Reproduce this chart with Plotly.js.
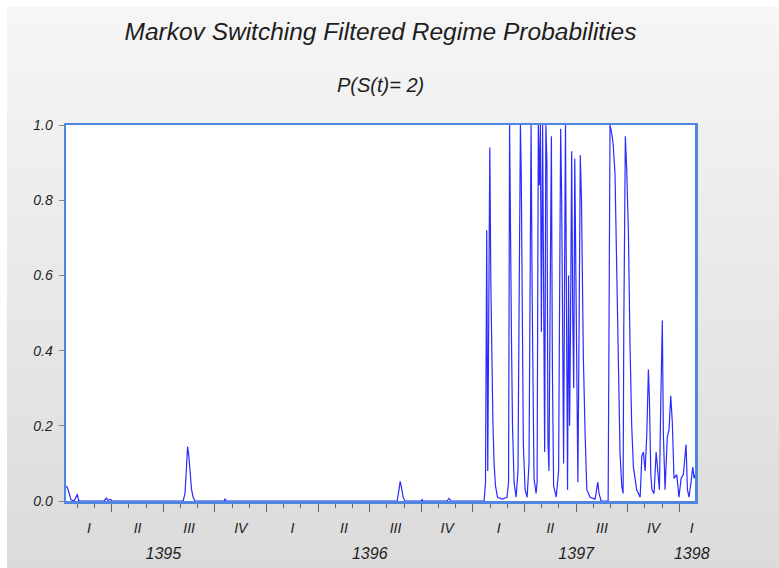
<!DOCTYPE html>
<html><head><meta charset="utf-8">
<script src="https://cdn.plot.ly/plotly-3.0.1.min.js"></script>
<style>
html,body{margin:0;padding:0;background:#fff;overflow:hidden;}
#bg{position:absolute;left:7px;top:7px;width:772px;height:561px;background:linear-gradient(#f6f6f6,#dbdbdb);}
#chart{position:absolute;left:0;top:0;width:779px;height:568px;}
</style></head><body><div id="bg"></div><div id="chart"></div>
<script>
// x: months since the start of 1395 (Iranian calendar); y: filtered P(S(t)=2)
const monthPos = [
 0.34,0.43,0.52,0.63,0.81,0.92,1.00,1.07,1.16,2.55,2.70,2.78,2.93,3.02,
 7.15,7.26,7.33,7.41,7.48,7.55,7.64,7.73,7.84,9.53,9.59,9.65,
 19.59,19.70,19.77,19.85,19.94,20.05,20.98,21.04,21.10,22.49,22.61,22.73,24.65,
 24.73,24.80,24.86,24.92,24.98,25.04,25.10,25.16,25.23,25.31,25.43,25.69,25.98,
 26.07,26.13,26.19,26.24,26.30,26.39,26.51,26.62,26.68,26.76,26.81,26.87,26.93,
 27.03,27.15,27.26,27.32,27.38,27.44,27.49,27.55,27.67,27.73,27.80,27.86,27.92,
 27.98,28.05,28.11,28.17,28.24,28.30,28.36,28.42,28.49,28.56,28.62,28.69,28.84,
 28.98,29.04,29.10,29.16,29.22,29.27,29.33,29.38,29.44,29.50,29.56,29.62,29.67,
 29.74,29.80,29.86,29.92,29.98,30.04,30.10,30.17,30.24,30.31,30.37,30.42,30.52,
 30.62,30.81,31.10,31.19,31.26,31.33,31.45,31.86,31.91,31.97,32.06,32.15,32.26,
 32.36,32.46,32.55,32.65,32.73,32.77,32.81,32.86,32.94,33.04,33.13,33.23,33.33,
 33.52,33.72,33.82,33.91,34.01,34.11,34.20,34.26,34.30,34.34,34.41,34.53,34.65,
 34.72,34.84,34.92,35.01,35.07,35.17,35.30,35.40,35.50,35.59,35.69,35.85,35.98,
 36.10,36.23,36.39,36.47,36.56,36.68,36.78,36.86,36.91
];
const probS2 = [
 0.04,0.035,0.02,0.003,0.0,0.012,0.018,0.002,0.0,0.0,0.008,0.002,0.004,0.0,
 0.0,0.02,0.09,0.145,0.12,0.07,0.03,0.01,0.0,0.0,0.006,0.0,
 0.0,0.03,0.052,0.035,0.01,0.0,0.0,0.004,0.0,0.0,0.007,0.0,0.0,
 0.05,0.72,0.08,0.40,0.94,0.58,0.33,0.21,0.10,0.04,0.01,0.005,0.01,
 0.05,1.0,0.50,0.43,0.20,0.05,0.01,0.08,0.50,1.0,0.86,0.45,0.15,
 0.03,0.01,0.10,0.50,1.0,0.56,0.30,0.06,0.02,0.05,1.0,0.84,1.0,
 0.45,1.0,0.62,0.13,1.0,0.90,0.16,0.08,0.55,0.97,0.35,0.04,0.01,
 0.08,0.55,0.99,0.80,0.35,0.10,0.62,1.0,0.50,0.03,0.60,0.20,0.45,
 0.93,0.50,0.30,0.91,0.60,0.20,0.05,0.45,0.92,0.80,0.50,0.38,0.18,
 0.03,0.01,0.005,0.03,0.05,0.02,0.0,0.0,0.60,1.0,0.98,0.95,0.87,
 0.61,0.33,0.13,0.04,0.02,0.46,0.81,0.97,0.88,0.71,0.42,0.20,0.09,
 0.03,0.01,0.12,0.13,0.08,0.18,0.35,0.27,0.16,0.07,0.03,0.02,0.13,
 0.09,0.03,0.26,0.48,0.18,0.03,0.17,0.19,0.28,0.21,0.06,0.07,0.01,
 0.06,0.07,0.15,0.03,0.01,0.05,0.09,0.06,0.07
];
const quarterBounds = [3,6,9,12,15,18,21,24,27,30,33,36];
const quarterLabelPos = [1.67,4.5,7.5,10.5,13.5,16.5,19.5,22.5,25.5,28.5,31.5,34.5,36.72];
const quarterLabels = ['I','II','III','IV','I','II','III','IV','I','II','III','IV','I'];
const yearLabelPos = [6,18,30,36.72];
const yearLabels = ['1395','1396','1397','1398'];
const yTickVals = [0,0.2,0.4,0.6,0.8,1.0];
const yTickText = ['0.0','0.2','0.4','0.6','0.8','1.0'];

const xRange = [0.34,36.91];
const fam = 'Liberation Sans, Arial, sans-serif';
const frame = '#4f86e0';
const tickFont = {family:fam, size:14, color:'#1e1e1e', style:'italic'};

const traces = [
 {type:'scatter', mode:'lines', x:monthPos, y:probS2, line:{color:'#2b2bff', width:1.2}, hoverinfo:'skip', showlegend:false},
 {type:'scatter', mode:'lines', x:[], y:[], xaxis:'x2', showlegend:false},
 {type:'scatter', mode:'lines', x:[], y:[], xaxis:'x3', showlegend:false}
];

const layout = {
 width:779, height:568,
 margin:{l:66, r:84, t:125, b:67},
 paper_bgcolor:'rgba(0,0,0,0)', plot_bgcolor:'#ffffff',
 showlegend:false,
 title:{text:'Markov Switching Filtered Regime Probabilities', x:0.5, xref:'paper', xanchor:'center',
   y:1-31/568, yref:'container', yanchor:'middle',
   font:{family:fam, size:24.5, color:'#1e1e1e', style:'italic'}},
 annotations:[{text:'P(S(t)= 2)', xref:'paper', yref:'paper', x:0.5, y:(501-85)/376, xanchor:'center', yanchor:'middle',
   showarrow:false, font:{family:fam, size:20, color:'#1e1e1e', style:'italic'}}],
 xaxis:{range:xRange, tickmode:'array', tickvals:quarterBounds, ticktext:quarterBounds.map(()=>''),
   ticks:'outside', ticklen:8, tickwidth:1, tickcolor:'#666',
   minor:{tickmode:'linear', tick0:0, dtick:1, ticks:'outside', ticklen:4, tickwidth:1, tickcolor:'#666', showgrid:false},
   showline:true, linecolor:frame, linewidth:2.5, mirror:true, showgrid:false, zeroline:false, fixedrange:true},
 xaxis2:{overlaying:'x', anchor:'y', side:'bottom', range:xRange, tickmode:'array', tickvals:quarterLabelPos, ticktext:quarterLabels,
   ticks:'outside', ticklen:14, tickcolor:'rgba(0,0,0,0)', showline:false, showgrid:false, zeroline:false, tickfont:tickFont, fixedrange:true},
 xaxis3:{overlaying:'x', anchor:'y', side:'bottom', range:xRange, tickmode:'array', tickvals:yearLabelPos, ticktext:yearLabels,
   ticks:'outside', ticklen:38, tickcolor:'rgba(0,0,0,0)', showline:false, showgrid:false, zeroline:false,
   tickfont:{family:fam, size:16, color:'#1e1e1e', style:'italic'}, fixedrange:true},
 yaxis:{range:[0,1], tickmode:'array', tickvals:yTickVals, ticktext:yTickText,
   ticks:'outside', ticklen:5, tickwidth:1, tickcolor:'#888', ticklabelstandoff:3,
   showline:true, linecolor:frame, linewidth:2.5, mirror:true, showgrid:false, zeroline:false, tickfont:tickFont, fixedrange:true}
};
Plotly.newPlot('chart', traces, layout, {displayModeBar:false, staticPlot:true});
</script></body></html>
